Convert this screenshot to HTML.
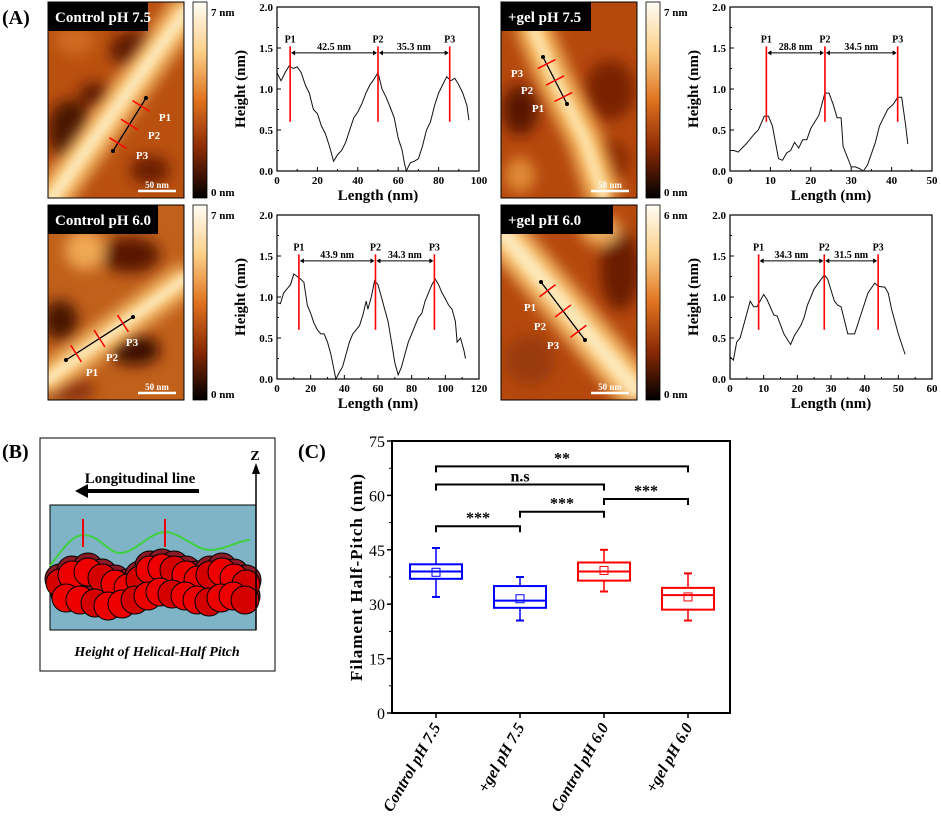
<!DOCTYPE html>
<html><head><meta charset="utf-8"><style>
html,body{margin:0;padding:0;background:#fff;}
svg{display:block;font-family:"Liberation Serif",serif;}
</style></head><body>
<svg id="fig" width="941" height="816" viewBox="0 0 941 816" xmlns="http://www.w3.org/2000/svg">
<defs>
<linearGradient id="cbar" x1="0" y1="0" x2="0" y2="1">
<stop offset="0" stop-color="#fffdf5"/><stop offset="0.25" stop-color="#fbd08a"/><stop offset="0.5" stop-color="#e0731f"/><stop offset="0.75" stop-color="#8a2a05"/><stop offset="1" stop-color="#000"/></linearGradient>
<filter id="blur8" x="-50%" y="-50%" width="200%" height="200%"><feGaussianBlur stdDeviation="7"/></filter>
<filter id="blur4" x="-50%" y="-50%" width="200%" height="200%"><feGaussianBlur stdDeviation="4"/></filter>
<clipPath id="c1"><rect x="48" y="2" width="136" height="196"/></clipPath>
<clipPath id="c2"><rect x="501" y="2" width="136" height="196"/></clipPath>
<clipPath id="c3"><rect x="48" y="205" width="136" height="195"/></clipPath>
<clipPath id="c4"><rect x="501" y="205" width="136" height="195"/></clipPath>
</defs>
<text x="2" y="24" font-size="20" font-weight="bold">(A)</text>
<text x="2" y="458" font-size="20" font-weight="bold">(B)</text>
<text x="298" y="458" font-size="20" font-weight="bold">(C)</text>

<!-- AFM image 1 -->
<g clip-path="url(#c1)">
<rect x="48" y="2" width="136" height="196" fill="#b9500f"/>
<g filter="url(#blur8)"><ellipse cx="70" cy="130" rx="22" ry="30" fill="#4a1200"/><ellipse cx="135" cy="50" rx="25" ry="18" fill="#5a1500"/><ellipse cx="95" cy="95" rx="16" ry="12" fill="#5a1600"/><ellipse cx="150" cy="170" rx="20" ry="14" fill="#6a1c02"/><ellipse cx="75" cy="40" rx="20" ry="15" fill="#d06a20"/></g>
<line x1="40" y1="215" x2="190" y2="5" stroke="#f7c070" stroke-width="34" filter="url(#blur8)"/>
<line x1="40" y1="215" x2="190" y2="5" stroke="#fde7b8" stroke-width="12" filter="url(#blur4)"/>
</g>
<rect x="48" y="2" width="136" height="196" fill="none" stroke="#000" stroke-width="1"/>
<!-- AFM image 2 -->
<g clip-path="url(#c2)">
<rect x="501" y="2" width="136" height="196" fill="#b5480d"/>
<g filter="url(#blur8)"><ellipse cx="520" cy="110" rx="18" ry="25" fill="#5a1600"/><ellipse cx="610" cy="90" rx="25" ry="30" fill="#7a2204"/><ellipse cx="610" cy="160" rx="20" ry="20" fill="#8a2a05"/><ellipse cx="520" cy="175" rx="15" ry="18" fill="#e08a35"/></g>
<polyline points="530,20 555,80 585,140 605,200" fill="none" stroke="#f5b860" stroke-width="34" filter="url(#blur8)"/>
<polyline points="530,20 555,80 585,140 605,200" fill="none" stroke="#fde0a8" stroke-width="12" filter="url(#blur4)"/>
</g>
<rect x="501" y="2" width="136" height="196" fill="none" stroke="#000"/>
<!-- AFM image 3 -->
<g clip-path="url(#c3)">
<rect x="48" y="205" width="136" height="195" fill="#c0601a"/>
<g filter="url(#blur8)"><ellipse cx="130" cy="255" rx="30" ry="18" fill="#5a1600"/><ellipse cx="60" cy="320" rx="18" ry="20" fill="#4a1200"/><ellipse cx="135" cy="350" rx="25" ry="15" fill="#3a0e00"/><ellipse cx="85" cy="250" rx="20" ry="20" fill="#f0a855"/><ellipse cx="70" cy="390" rx="25" ry="12" fill="#8a3008"/></g>
<line x1="40" y1="385" x2="190" y2="275" stroke="#f7c070" stroke-width="30" filter="url(#blur8)"/>
<line x1="40" y1="385" x2="190" y2="275" stroke="#fde7b8" stroke-width="10" filter="url(#blur4)"/>
</g>
<rect x="48" y="205" width="136" height="195" fill="none" stroke="#000"/>
<!-- AFM image 4 -->
<g clip-path="url(#c4)">
<rect x="501" y="205" width="136" height="195" fill="#b5480d"/>
<g filter="url(#blur8)"><ellipse cx="620" cy="270" rx="20" ry="40" fill="#6a1c02"/><ellipse cx="530" cy="360" rx="25" ry="25" fill="#9a3a08"/><ellipse cx="600" cy="230" rx="20" ry="15" fill="#f0b060"/></g>
<line x1="500" y1="230" x2="640" y2="395" stroke="#f7c070" stroke-width="40" filter="url(#blur8)"/>
<line x1="500" y1="230" x2="640" y2="395" stroke="#fde7b8" stroke-width="16" filter="url(#blur4)"/>
</g>
<rect x="501" y="205" width="136" height="195" fill="none" stroke="#000"/>
<g id="overlays"></g>
<g id="profiles"></g>

<!-- Panel B -->
<g>
<rect x="40" y="438" width="235" height="233" fill="#fff" stroke="#000" stroke-width="1"/>
<rect x="50" y="505" width="206" height="125" fill="#7fb3c6" stroke="#000" stroke-width="1"/>
<g id="beads"></g>
<path d="M50,566 C62,550 72,535 83,535 C100,535 108,553 120,553 C135,553 150,532 165,532 C180,532 195,550 210,550 C225,550 240,540 250,540" fill="none" stroke="#40d040" stroke-width="2"/>
<line x1="83" y1="519" x2="83" y2="547" stroke="#e00" stroke-width="2"/>
<line x1="165" y1="519" x2="165" y2="547" stroke="#e00" stroke-width="2"/>
<line x1="256" y1="630" x2="256" y2="470" stroke="#000" stroke-width="1.5"/>
<polygon points="256,463 252,474 260,474" fill="#000"/>
<text x="255" y="460" font-size="14" font-weight="bold" text-anchor="middle">Z</text>
<text x="140" y="483" font-size="15" font-weight="bold" text-anchor="middle">Longitudinal line</text>
<line x1="86" y1="491" x2="199" y2="491" stroke="#000" stroke-width="4"/>
<polygon points="75,491 88,484 88,498" fill="#000"/>
<text x="157" y="656" font-size="14" font-weight="bold" font-style="italic" text-anchor="middle">Height  of Helical-Half Pitch</text>
</g>
<g id="panelC"></g>
</svg>
<script>
const NS="http://www.w3.org/2000/svg";
function mk(tag,attrs,parent,txt){const e=document.createElementNS(NS,tag);for(const k in attrs)e.setAttribute(k,attrs[k]);if(txt!==undefined)e.textContent=txt;parent.appendChild(e);return e;}

// ---------- Profile data ----------
const p1Len=[0,2,4,6,8,10,12,14,16,18,20,22,24,26,28,30,32,34,36,38,40,42,44,46,48,50,52,54,56,58,60,62,63,64,66,68,70,72,74,76,78,80,82,84,86,88,90,92,94,95];
const p1H=[1.2,1.1,1.2,1.28,1.25,1.27,1.2,1.05,0.95,0.75,0.7,0.55,0.45,0.3,0.12,0.2,0.25,0.35,0.5,0.65,0.72,0.82,0.95,1.05,1.12,1.2,1.0,0.9,0.78,0.65,0.4,0.25,0.1,0.0,0.1,0.12,0.15,0.3,0.5,0.6,0.8,0.95,1.05,1.15,1.1,1.13,1.05,0.95,0.8,0.62];
const p2Len=[0,1,2,4,6,7,8.5,9.5,10.5,12,13,14,15,16,17,18,19,20,22,23.5,24.5,25.5,26.5,27.5,28,30,31,32,33,34,36,37,39,40.5,41.5,42.5,43.5,44];
const p2H=[0.25,0.25,0.23,0.33,0.45,0.5,0.67,0.67,0.55,0.15,0.13,0.22,0.25,0.35,0.28,0.38,0.38,0.52,0.68,0.95,0.95,0.82,0.65,0.65,0.3,0.05,0.05,0.03,0.0,0.07,0.35,0.55,0.75,0.82,0.9,0.9,0.55,0.33];
const p3Len=[0,2,4,6,8,10,12,14,16,18,20,22,24,26,28,30,32,34,35,37,39,41,43,45,47,49,51,53,54,56,58,60,62,64,66,68,70,72,74,76,78,80,82,84,86,88,90,92,94,96,98,100,102,104,106,107,109,111,112];
const p3H=[0.93,0.92,1.05,1.1,1.15,1.28,1.25,1.22,1.18,0.9,0.8,0.68,0.6,0.55,0.55,0.45,0.3,0.1,0.0,0.08,0.15,0.3,0.45,0.55,0.6,0.65,0.78,0.95,0.85,1.0,1.2,1.15,1.0,0.85,0.7,0.45,0.2,0.05,0.15,0.3,0.45,0.55,0.65,0.75,0.8,0.95,1.05,1.15,1.22,1.15,1.05,0.98,0.9,0.85,0.7,0.45,0.5,0.35,0.25];
const p4Len=[0,1,2,3,4,6,7,8,10,11,13,14,16,18,19,21,22,23,25,28,29,31,32,33,35,37,39,41,43,44,46,47,48,50,52];
const p4H=[0.27,0.23,0.45,0.5,0.65,0.95,0.88,0.88,1.03,0.97,0.78,0.77,0.55,0.42,0.52,0.65,0.75,0.9,1.1,1.27,1.22,0.95,0.9,0.88,0.55,0.55,0.8,1.05,1.17,1.13,1.12,1.05,0.85,0.55,0.3];
const peaks1=[6.5,50,85.5], peaks2=[9,23.5,41.5], peaks3=[13,58.5,93.5], peaks4=[8.5,28,44];
const dist1=["42.5 nm","35.3 nm"], dist2=["28.8 nm","34.5 nm"], dist3=["43.9 nm","34.3 nm"], dist4=["34.3 nm","31.5 nm"];
const xTicks1=[0,20,40,60,80,100], xTicks2=[0,10,20,30,40,50], xTicks3=[0,20,40,60,80,100,120], xTicks4=[0,10,20,30,40,50,60];
const hTicks=[0.0,0.5,1.0,1.5,2.0];

const panels=[
 {name:"control-ph75",L:277,R:479,T:7,B:171,len:p1Len,h:p1H,pk:peaks1,d:dist1,xt:xTicks1},
 {name:"gel-ph75",L:730,R:932,T:7,B:171,len:p2Len,h:p2H,pk:peaks2,d:dist2,xt:xTicks2},
 {name:"control-ph60",L:277,R:479,T:215,B:379,len:p3Len,h:p3H,pk:peaks3,d:dist3,xt:xTicks3},
 {name:"gel-ph60",L:730,R:932,T:215,B:379,len:p4Len,h:p4H,pk:peaks4,d:dist4,xt:xTicks4}
];
const prof=document.getElementById('profiles');
panels.forEach(p=>{
 const g=mk('g',{},prof);
 
 
 const xmax=p.xt[p.xt.length-1];
 const sx=v=>p.L+(v/xmax)*(p.R-p.L);
 const sy=v=>p.B-(v/2)*(p.B-p.T);
 mk('rect',{x:p.L,y:p.T,width:p.R-p.L,height:p.B-p.T,fill:'none',stroke:'#000','stroke-width':1.2},g);
 hTicks.forEach(t=>{const y=sy(t);mk('line',{x1:p.L,x2:p.L+4,y1:y,y2:y,stroke:'#000'},g);
  const lb=mk('text',{x:p.L-4,y:y+4,'font-size':11,'font-weight':'bold','text-anchor':'end'},g,t.toFixed(1));
  });
 for(let i=0;i<hTicks.length-1;i++){const y=sy((hTicks[i]+hTicks[i+1])/2);mk('line',{x1:p.L,x2:p.L+2,y1:y,y2:y,stroke:'#000'},g);}
 p.xt.forEach((t,i)=>{const x=sx(t);mk('line',{x1:x,x2:x,y1:p.B,y2:p.B-4,stroke:'#000'},g);
  if(i<p.xt.length-1){const xm=sx(t+(p.xt[1]-p.xt[0])/2);mk('line',{x1:xm,x2:xm,y1:p.B,y2:p.B-2,stroke:'#000'},g);}
  const lb=mk('text',{x:x,y:p.B+13,'font-size':11,'font-weight':'bold','text-anchor':'middle'},g,String(t));
  });
 const xl=mk('text',{x:(p.L+p.R)/2,y:p.B+29,'font-size':15,'font-weight':'bold','text-anchor':'middle'},g,'Length (nm)');
 
 const yl=mk('text',{x:0,y:0,'font-size':15,'font-weight':'bold','text-anchor':'middle',transform:`translate(${p.L-32},${(p.T+p.B)/2}) rotate(-90)`},g,'Height (nm)');
 
 const pts=p.len.map((v,i)=>sx(v).toFixed(1)+','+sy(p.h[i]).toFixed(1)).join(' ');
 const ln=mk('polyline',{points:pts,fill:'none',stroke:'#111','stroke-width':1},g);
 
 p.pk.forEach((v,i)=>{const x=sx(v);
  const r=mk('line',{x1:x,x2:x,y1:sy(0.6),y2:sy(1.52),stroke:'#f00','stroke-width':1.6},g);
  
  mk('text',{x:x,y:sy(1.57),'font-size':10,'font-weight':'bold','text-anchor':'middle'},g,'P'+(i+1));});
 for(let i=0;i<2;i++){const x1=sx(p.pk[i]),x2=sx(p.pk[i+1]),y=sy(1.44);
  mk('line',{x1:x1+3,x2:x2-3,y1:y,y2:y,stroke:'#000','stroke-width':1},g);
  mk('polygon',{points:`${x1+1},${y} ${x1+5},${y-2.5} ${x1+5},${y+2.5}`,fill:'#000'},g);
  mk('polygon',{points:`${x2-1},${y} ${x2-5},${y-2.5} ${x2-5},${y+2.5}`,fill:'#000'},g);
  mk('text',{x:(x1+x2)/2,y:y-3,'font-size':10,'font-weight':'bold','text-anchor':'middle'},g,p.d[i]);}
});

// ---------- AFM overlays ----------
const ov=document.getElementById('overlays');
const afm=[
 {name:"control-ph75",x:48,y:2,w:136,h:196,cb:"7 nm",title:"Control pH 7.5",tw:100,line:[146,98,113,151],lab:[[165,121],[154,139],[142,159]]},
 {name:"gel-ph75",x:501,y:2,w:136,h:196,cb:"7 nm",title:"+gel pH 7.5",tw:90,line:[543,57,567,104],lab:[[538,112],[527,94],[517,77]]},
 {name:"control-ph60",x:48,y:205,w:136,h:195,cb:"7 nm",title:"Control pH 6.0",tw:110,line:[66,360,133,317],lab:[[92,376],[112,361],[132,346]]},
 {name:"gel-ph60",x:501,y:205,w:136,h:195,cb:"6 nm",title:"+gel pH 6.0",tw:112,line:[541,282,585,340],lab:[[530,311],[540,330],[553,349]]}
];
afm.forEach(a=>{
 const g=mk('g',{},ov);
 
 
 mk('rect',{x:a.x,y:a.y,width:a.tw,height:29,fill:'#000'},g);
 mk('text',{x:a.x+7,y:a.y+20,'font-size':15,'font-weight':'bold',fill:'#fff'},g,a.title);
 const cb=mk('rect',{x:a.x+145,y:a.y,width:14,height:a.h,fill:'url(#cbar)',stroke:'#000','stroke-width':0.8},g);
 
 mk('text',{x:a.x+163,y:a.y+14,'font-size':11,'font-weight':'bold'},g,a.cb);
 mk('text',{x:a.x+163,y:a.y+a.h-2,'font-size':11,'font-weight':'bold'},g,'0 nm');
 mk('line',{x1:a.x+90,x2:a.x+128,y1:a.y+a.h-7,y2:a.y+a.h-7,stroke:'#fff','stroke-width':2.5},g);
 mk('text',{x:a.x+109,y:a.y+a.h-10,'font-size':9,'font-weight':'bold',fill:'#fff','text-anchor':'middle'},g,'50 nm');
 const [x1,y1,x2,y2]=a.line;
 mk('line',{x1,y1,x2,y2,stroke:'#000','stroke-width':1.3},g);
 mk('circle',{cx:x1,cy:y1,r:2,fill:'#000'},g);mk('circle',{cx:x2,cy:y2,r:2,fill:'#000'},g);
 const dx=x2-x1,dy=y2-y1,L=Math.hypot(dx,dy),nx=-dy/L,ny=dx/L;
 [0.15,0.5,0.85].forEach(f=>{const cx=x1+dx*f,cy=y1+dy*f;
  mk('line',{x1:cx-nx*10,y1:cy-ny*10,x2:cx+nx*10,y2:cy+ny*10,stroke:'#f00','stroke-width':1.5},g);});
 a.lab.forEach((p,i)=>mk('text',{x:p[0],y:p[1],'font-size':11,'font-weight':'bold',fill:'#fff','text-anchor':'middle'},g,'P'+(i+1)));
});

// ---------- Beads schematic ----------
const bd=document.getElementById('beads');
const beadX=[60,72,88,102,115,128,140,150,162,174,186,198,210,222,234,246,66,80,95,108,122,135,148,160,172,185,197,209,221,233,245];
const beadY=[583,575,572,578,584,588,580,570,568,570,575,580,575,572,578,584,598,600,603,606,604,600,596,592,594,596,600,602,598,596,600];
beadX.forEach((x,i)=>{const c=mk('circle',{cx:x,cy:beadY[i]-4,r:15,fill:'#8a1a25',stroke:'#000','stroke-width':1},bd);
 });
beadX.forEach((x,i)=>{const c=mk('circle',{cx:x,cy:beadY[i],r:14,fill:i%3?'#ee0000':'#d40000',stroke:'#000','stroke-width':1},bd);
 });

// ---------- Panel C box plot ----------
const groups=["Control pH 7.5","+gel pH 7.5","Control pH 6.0","+gel pH 6.0"];
const whiskLow=[32,25.5,33.5,25.5];
const q1=[37,29,36.5,28.5];
const median=[39,31,39,32.5];
const q3=[41,35,41.5,34.5];
const whiskHigh=[45.5,37.5,45,38.5];
const means=[38.8,31.5,39.3,32];
const colors=["#0000ff","#0000ff","#ff0000","#ff0000"];
const yTicksC=[0,15,30,45,60,75];
const sigFrom=[0,0,2,1,0], sigTo=[3,2,3,2,1], sigY=[68,63,59,55.5,51.5], sigLabel=["**","n.s","***","***","***"];
const C=document.getElementById('panelC');
const cL=392,cR=730,cT=441,cB=713;
const cy=v=>cB-(v/75)*(cB-cT);
const cx=i=>cL+44+i*84;
mk('rect',{x:cL,y:cT,width:cR-cL,height:cB-cT,fill:'none',stroke:'#000','stroke-width':2},C);
yTicksC.forEach((t,i)=>{const y=cy(t);mk('line',{x1:cL,x2:cL-5,y1:y,y2:y,stroke:'#000','stroke-width':1.5},C);
 const lb=mk('text',{x:cL-7,y:y+6,'font-size':16,'text-anchor':'end'},C,String(t));
 
 if(i<yTicksC.length-1){const ym=cy(t+7.5);mk('line',{x1:cL,x2:cL-3,y1:ym,y2:ym,stroke:'#000'},C);}});
const ytl=mk('text',{x:0,y:0,'font-size':17,'font-weight':'bold','text-anchor':'middle','letter-spacing':'1',transform:`translate(362,${(cT+cB)/2}) rotate(-90)`},C,'Filament Half-Pitch (nm)');

groups.forEach((gname,i)=>{
 const x=cx(i),col=colors[i],hw=26;
 mk('line',{x1:x,x2:x,y1:cB,y2:cB+5,stroke:'#000','stroke-width':1.5},C);
 const tl=mk('text',{x:0,y:0,'font-size':16,'font-weight':'bold','font-style':'italic','text-anchor':'end',transform:`translate(${x+5},${cB+14}) rotate(-60)`},C,gname);
 
 const g=mk('g',{},C);
 
 
 mk('line',{x1:x,x2:x,y1:cy(whiskHigh[i]),y2:cy(q3[i]),stroke:col,'stroke-width':1.5},g);
 mk('line',{x1:x,x2:x,y1:cy(q1[i]),y2:cy(whiskLow[i]),stroke:col,'stroke-width':1.5},g);
 mk('line',{x1:x-4,x2:x+4,y1:cy(whiskHigh[i]),y2:cy(whiskHigh[i]),stroke:col,'stroke-width':2},g);
 mk('line',{x1:x-4,x2:x+4,y1:cy(whiskLow[i]),y2:cy(whiskLow[i]),stroke:col,'stroke-width':2},g);
 mk('rect',{x:x-hw,y:cy(q3[i]),width:2*hw,height:cy(q1[i])-cy(q3[i]),fill:'none',stroke:col,'stroke-width':2},g);
 mk('line',{x1:x-hw,x2:x+hw,y1:cy(median[i]),y2:cy(median[i]),stroke:col,'stroke-width':2},g);
 mk('rect',{x:x-4,y:cy(means[i])-4,width:8,height:8,fill:'none',stroke:col,'stroke-width':1},g);
});
sigY.forEach((v,k)=>{
 const x1=cx(sigFrom[k]),x2=cx(sigTo[k]),y=cy(v);
 const g=mk('g',{},C);
 
 
 mk('polyline',{points:`${x1},${y+6} ${x1},${y} ${x2},${y} ${x2},${y+6}`,fill:'none',stroke:'#000','stroke-width':2},g);
 mk('text',{x:(x1+x2)/2,y:y-3,'font-size':16,'font-weight':'bold','text-anchor':'middle'},g,sigLabel[k]);
});
</script>
</body></html>
